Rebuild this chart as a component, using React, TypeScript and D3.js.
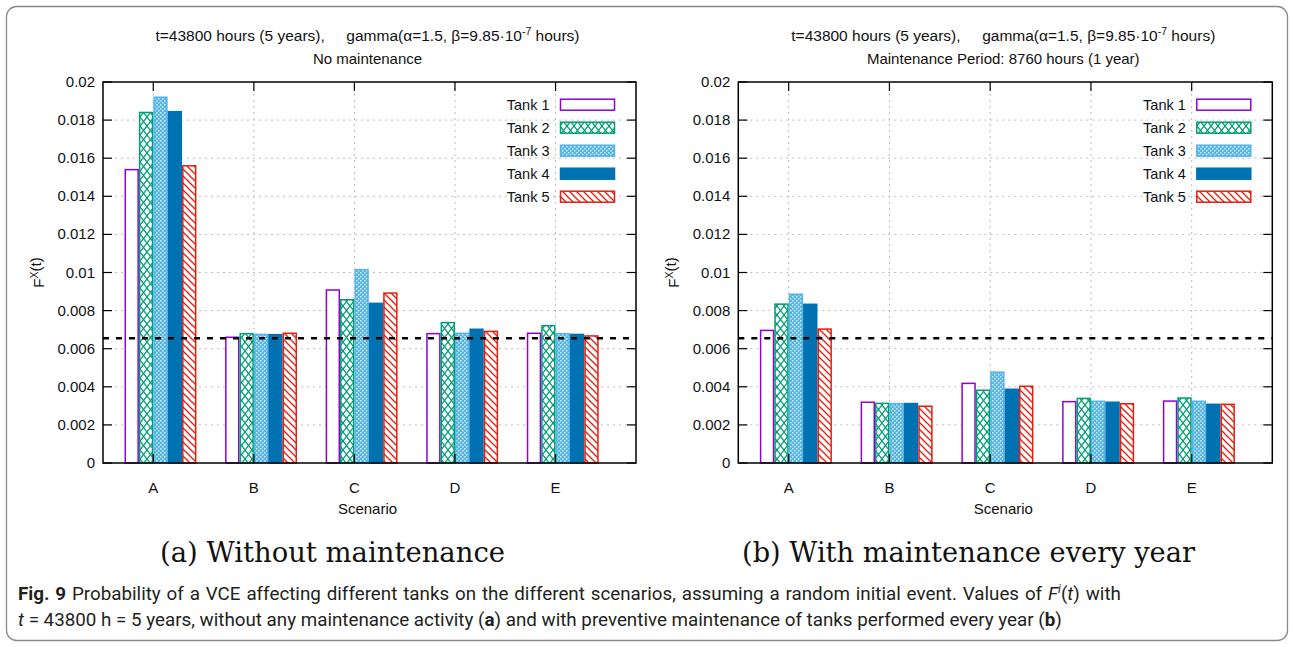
import React from "react";
import * as d3 from "d3";

const scenarios = ["A", "B", "C", "D", "E"];
const tankNames = ["Tank 1", "Tank 2", "Tank 3", "Tank 4", "Tank 5"];

// Panel (a): no maintenance
const noMaintTank1 = [0.0154, 0.0066, 0.00908, 0.00679, 0.00681];
const noMaintTank2 = [0.0184, 0.00679, 0.00857, 0.00737, 0.00721];
const noMaintTank3 = [0.0192, 0.00675, 0.01015, 0.00681, 0.00679];
const noMaintTank4 = [0.01844, 0.00674, 0.00838, 0.00702, 0.00675];
const noMaintTank5 = [0.0156, 0.00681, 0.00892, 0.00691, 0.00667];

// Panel (b): maintenance every year
const maintTank1 = [0.00696, 0.00319, 0.00418, 0.00322, 0.00325];
const maintTank2 = [0.00834, 0.00313, 0.00382, 0.00339, 0.00341];
const maintTank3 = [0.00886, 0.00312, 0.00477, 0.00324, 0.00324];
const maintTank4 = [0.00833, 0.00312, 0.00387, 0.00319, 0.00308];
const maintTank5 = [0.00703, 0.00298, 0.00403, 0.00311, 0.00308];

const threshold = 0.00655;

const yTickValues = [0, 0.002, 0.004, 0.006, 0.008, 0.01, 0.012, 0.014, 0.016, 0.018, 0.02];
const yTickLabels = ["0", "0.002", "0.004", "0.006", "0.008", "0.01", "0.012", "0.014", "0.016", "0.018", "0.02"];

const FONT = "'Liberation Sans', Arial, Helvetica, sans-serif";
const strokes = ["#9400d3", "#009e73", "#56b4e9", "#0072b2", "#e51e10"];
const fills = ["#ffffff", "url(#patCross)", "url(#patDots)", "#0072b2", "url(#patHatch)"];

type PanelProps = {
  left: number;
  right: number;
  series: number[][];
  subtitle: string;
};

function Panel({ left, right, series, subtitle }: PanelProps) {
  const top = 82;
  const bottom = 463;
  const x = d3.scaleLinear().domain([-0.5, 4.8]).range([left, right]);
  const y = d3.scaleLinear().domain([0, 0.02]).range([bottom, top]);
  const bw = 0.143;
  const bwPx = x(bw) - x(0);
  const cx = (left + right) / 2 - 2;
  const tick = 9;
  const legendTextX = right - 86.5;
  const legendBoxX = right - 75.5;
  const fs = 15;
  return (
    <g fontFamily={FONT}>
      {/* titles */}
      <text x={cx} y={41} fontSize={15.5} textAnchor="middle" fill="#111">
        t=43800 hours (5 years),{"\u00a0\u00a0\u00a0\u00a0\u00a0"}gamma(α=1.5, β=9.85·10
        <tspan dy={-6} fontSize={10.5}>-7</tspan>
        <tspan dy={6}> hours)</tspan>
      </text>
      <text x={cx} y={64} fontSize={15} textAnchor="middle" fill="#111">
        {subtitle}
      </text>
      {/* grid */}
      {yTickValues.slice(1, -1).map((v) => (
        <line key={"gy" + v} x1={left} x2={right} y1={y(v)} y2={y(v)} stroke="#bdbdbd" strokeWidth={1} strokeDasharray="2,4" />
      ))}
      {scenarios.map((s, i) => (
        <line key={"gx" + s} x1={x(i)} x2={x(i)} y1={top} y2={bottom} stroke="#bdbdbd" strokeWidth={1} strokeDasharray="2,4" />
      ))}
      {/* bars */}
      {series.map((vals, t) =>
        vals.map((v, i) => (
          <rect
            key={"b" + t + "_" + i}
            x={x(i - 0.286 + t * bw) + 0.75}
            y={y(v)}
            width={bwPx - 1.5}
            height={y(0) - y(v)}
            fill={fills[t]}
            stroke={strokes[t]}
            strokeWidth={1.5}
          />
        ))
      )}
      {/* threshold */}
      <line x1={left} x2={right} y1={y(threshold)} y2={y(threshold)} stroke="#000" strokeWidth={2.5} strokeDasharray="6,7" />
      {/* frame */}
      <rect x={left} y={top} width={right - left} height={bottom - top} fill="none" stroke="#000" strokeWidth={1.5} />
      {/* y ticks */}
      {yTickValues.map((v, k) => (
        <g key={"yt" + v}>
          <line x1={left} x2={left + tick} y1={y(v)} y2={y(v)} stroke="#000" strokeWidth={1.2} />
          <line x1={right} x2={right - tick} y1={y(v)} y2={y(v)} stroke="#000" strokeWidth={1.2} />
          <text x={left - 8} y={y(v) + 5} fontSize={fs} textAnchor="end" fill="#111">
            {yTickLabels[k]}
          </text>
        </g>
      ))}
      {/* x ticks */}
      {scenarios.map((s, i) => (
        <g key={"xt" + s}>
          <line x1={x(i)} x2={x(i)} y1={top} y2={top + tick} stroke="#000" strokeWidth={1.2} />
          <line x1={x(i)} x2={x(i)} y1={bottom} y2={bottom - tick} stroke="#000" strokeWidth={1.2} />
          <text x={x(i)} y={493} fontSize={fs} textAnchor="middle" fill="#111">
            {s}
          </text>
        </g>
      ))}
      <text x={cx} y={514} fontSize={fs} textAnchor="middle" fill="#111">
        Scenario
      </text>
      {/* y label */}
      <text transform={`translate(${left - 59},${(top + bottom) / 2}) rotate(-90)`} fontSize={fs} textAnchor="middle" fill="#111">
        F<tspan dy={-6} fontSize={10.5}>X</tspan>
        <tspan dy={3}>(t)</tspan>
      </text>
      {/* legend */}
      {tankNames.map((n, t) => {
        const cy = 104.7 + t * 23;
        return (
          <g key={"lg" + n}>
            <text x={legendTextX} y={cy + 5} fontSize={14.5} textAnchor="end" fill="#111">
              {n}
            </text>
            <rect x={legendBoxX} y={cy - 5.5} width={54} height={11} fill={fills[t]} stroke={strokes[t]} strokeWidth={1.5} />
          </g>
        );
      })}
    </g>
  );
}

export default function App() {
  const seriesA = [noMaintTank1, noMaintTank2, noMaintTank3, noMaintTank4, noMaintTank5];
  const seriesB = [maintTank1, maintTank2, maintTank3, maintTank4, maintTank5];
  const capFont = "Roboto, 'Liberation Sans', sans-serif";
  const serif = "'DejaVu Serif', 'Liberation Serif', serif";
  return (
    <svg width={1294} height={647} style={{ position: "absolute", left: 0, top: 0, background: "#fff" }}>
      <defs>
        <pattern id="patCross" patternUnits="userSpaceOnUse" width={7} height={9}>
          <rect width={7} height={9} fill="#fff" />
          <line x1={0} y1={0} x2={7} y2={9} stroke="#009e73" strokeWidth={1.3} />
          <line x1={7} y1={0} x2={0} y2={9} stroke="#009e73" strokeWidth={1.3} />
        </pattern>
        <pattern id="patDots" patternUnits="userSpaceOnUse" width={4} height={4}>
          <rect width={4} height={4} fill="#56b4e9" />
          <rect x={0} y={0} width={1.5} height={1.5} fill="#fff" opacity={0.75} />
          <rect x={2} y={2} width={1.5} height={1.5} fill="#fff" opacity={0.75} />
        </pattern>
        <pattern id="patHatch" patternUnits="userSpaceOnUse" width={7} height={7}>
          <rect width={7} height={7} fill="#fff" />
          <line x1={0} y1={0} x2={7} y2={7} stroke="#e51e10" strokeWidth={1.3} />
          <line x1={-1} y1={6} x2={1} y2={8} stroke="#e51e10" strokeWidth={1.3} />
          <line x1={6} y1={-1} x2={8} y2={1} stroke="#e51e10" strokeWidth={1.3} />
        </pattern>
      </defs>
      <rect x={6.5} y={6.5} width={1281} height={634} rx={10} fill="none" stroke="#8a8a8a" strokeWidth={1.3} />
      <Panel left={103} right={636} series={seriesA} subtitle="No maintenance" />
      <Panel left={738.3} right={1272.3} series={seriesB} subtitle="Maintenance Period: 8760 hours (1 year)" />
      <text x={160} y={562} fontSize={27} fontFamily={serif} fill="#111" textLength={345} lengthAdjust="spacingAndGlyphs">
        (a) Without maintenance
      </text>
      <text x={742} y={562} fontSize={27} fontFamily={serif} fill="#111" textLength={453} lengthAdjust="spacingAndGlyphs">
        (b) With maintenance every year
      </text>
      <text x={18} y={600} fontSize={18.8} fontFamily={capFont} fill="#231f20" wordSpacing={1.2}>
        <tspan fontWeight="bold">Fig. 9</tspan> Probability of a VCE affecting different tanks on the different scenarios, assuming a random initial event. Values of{" "}
        <tspan fontStyle="italic">F</tspan>
        <tspan dy={-7} fontSize={12} fontStyle="italic">i</tspan>
        <tspan dy={7}>(</tspan>
        <tspan fontStyle="italic">t</tspan>) with
      </text>
      <text x={18} y={626} fontSize={18.8} fontFamily={capFont} fill="#231f20">
        <tspan fontStyle="italic">t</tspan> = 43800 h = 5 years, without any maintenance activity (<tspan fontWeight="bold">a</tspan>) and with preventive maintenance of tanks performed every year (<tspan fontWeight="bold">b</tspan>)
      </text>
    </svg>
  );
}
